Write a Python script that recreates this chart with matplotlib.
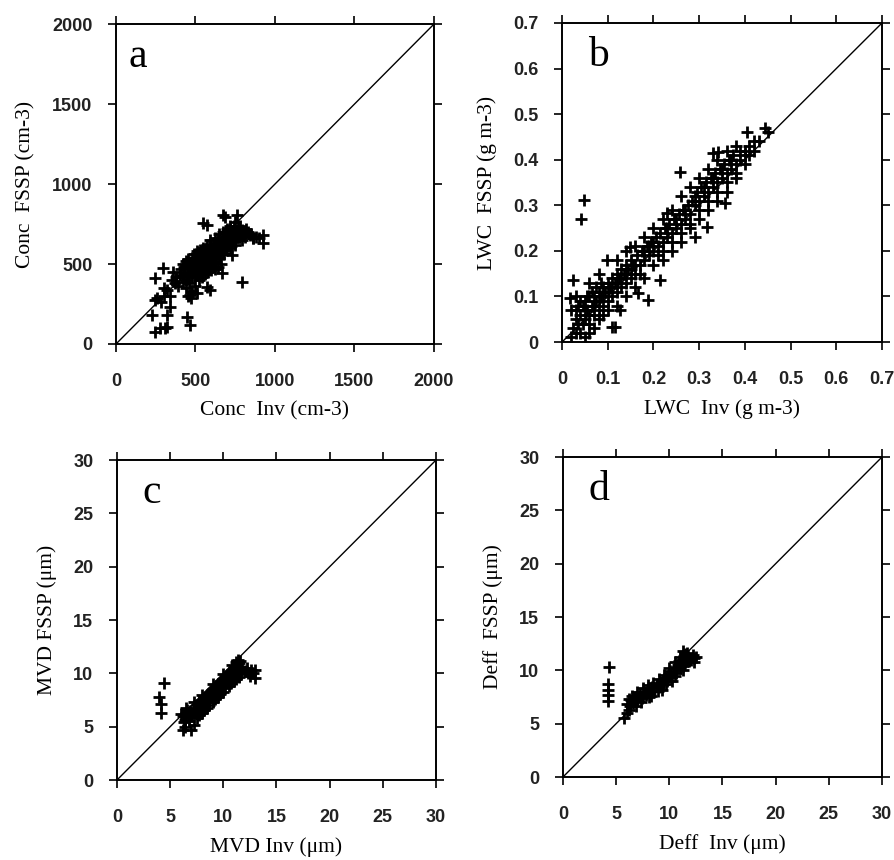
import matplotlib
matplotlib.use("Agg")
import matplotlib.pyplot as plt
from matplotlib.ticker import FixedLocator, FuncFormatter

# ---- data ----
conc_inv = [400, 410, 420, 430, 440, 450, 455, 460, 470, 475, 480, 490, 495, 500, 505, 510, 515, 520, 525, 530,
            540, 545, 550, 555, 560, 565, 570, 575, 580, 585, 590, 595, 600, 605, 610, 615, 620, 625, 630, 635,
            640, 645, 650, 655, 660, 665, 670, 675, 680, 685, 690, 695, 700, 705, 710, 715, 720, 725, 730, 735,
            740, 745, 750, 755, 760, 770, 780, 790, 800, 810, 820, 840, 860,
            420, 430, 440, 450, 460, 470, 480, 490, 500, 500, 510, 510, 520, 530, 530, 540, 550, 560, 560, 570,
            580, 590, 590, 600, 610, 610, 620, 630, 640, 650, 650, 660, 670, 680, 680, 690, 700, 700, 710, 720,
            720, 730, 740, 750, 750, 760, 770, 780, 790, 800, 830, 850, 880, 900,
            350, 360, 370, 380, 390, 420, 440, 460, 480, 500, 520, 540, 560, 580, 600, 620, 640, 660, 450, 470,
            510, 300, 320, 340, 280, 260, 300,
            245, 298, 224, 245, 319, 340, 444, 465, 277, 319, 245, 308, 570, 549, 686, 759, 675, 927, 927, 864,
            790, 728, 665, 591, 570, 465]
conc_fssp = [430, 470, 500, 450, 520, 480, 440, 510, 470, 540, 500, 450, 520, 480, 560, 430, 510, 470, 540, 500,
             580, 520, 470, 550, 510, 600, 540, 480, 570, 520, 610, 560, 500, 590, 540, 630, 580, 520, 610, 560,
             650, 600, 540, 630, 580, 670, 620, 560, 660, 600, 700, 640, 590, 680, 630, 720, 660, 610, 700, 650,
             740, 690, 640, 710, 670, 730, 690, 650, 700, 670, 720, 680, 660,
             420, 480, 400, 530, 450, 500, 420, 560, 430, 520, 470, 580, 540, 450, 590, 490, 600, 470, 560, 620,
             500, 540, 650, 580, 620, 480, 660, 540, 610, 690, 580, 640, 700, 560, 620, 660, 720, 620, 680, 740,
             600, 660, 700, 760, 620, 700, 680, 740, 710, 680, 700, 690, 670, 660,
             400, 450, 380, 420, 360, 390, 350, 380, 330, 360, 400, 420, 440, 450, 460, 470, 480, 500, 300, 290,
             320, 300, 340, 300, 260, 290, 350,
             410, 473, 181, 275, 181, 233, 171, 119, 98, 108, 77, 98, 744, 754, 796, 806, 806, 681, 629, 660,
             389, 556, 442, 338, 358, 306]

lwc_inv = [0.02, 0.025, 0.03, 0.03, 0.035, 0.04, 0.04, 0.045, 0.05, 0.05, 0.055, 0.06, 0.06, 0.065, 0.07, 0.07,
           0.075, 0.08, 0.08, 0.085, 0.09, 0.09, 0.095, 0.1, 0.1, 0.105, 0.11, 0.11, 0.115, 0.12, 0.12, 0.125,
           0.13, 0.13, 0.135, 0.14, 0.14, 0.145, 0.15, 0.15, 0.155, 0.16, 0.165, 0.17, 0.175, 0.18, 0.185, 0.19,
           0.195, 0.2, 0.205, 0.21, 0.215, 0.22, 0.225, 0.23, 0.235, 0.24, 0.245, 0.25, 0.255, 0.26, 0.265, 0.27,
           0.275, 0.28, 0.285, 0.29, 0.295, 0.3, 0.305, 0.31, 0.315, 0.32, 0.325, 0.33, 0.335, 0.34, 0.345, 0.35,
           0.355, 0.36, 0.365, 0.37, 0.375, 0.38, 0.39, 0.4, 0.41, 0.42, 0.43, 0.45,
           0.03, 0.04, 0.045, 0.05, 0.055, 0.06, 0.065, 0.07, 0.075, 0.08, 0.085, 0.09, 0.1, 0.11, 0.12, 0.13,
           0.14, 0.15, 0.16, 0.17, 0.18, 0.19, 0.2, 0.21, 0.22, 0.23, 0.24, 0.25, 0.26, 0.27, 0.28, 0.29, 0.3,
           0.31, 0.32, 0.33, 0.34, 0.35, 0.36, 0.37, 0.38, 0.39, 0.4, 0.41, 0.42,
           0.02, 0.03, 0.035, 0.05, 0.06, 0.07, 0.08, 0.09, 0.1, 0.12, 0.14, 0.16, 0.18, 0.2, 0.22, 0.24, 0.26,
           0.28, 0.3, 0.32, 0.34, 0.36, 0.38, 0.4, 0.06, 0.08, 0.12, 0.14, 0.16, 0.18, 0.2, 0.22, 0.24, 0.26,
           0.28, 0.3, 0.32, 0.34, 0.36, 0.38,
           0.047, 0.041, 0.258, 0.025, 0.018, 0.109, 0.116, 0.127, 0.167, 0.189, 0.214, 0.098, 0.149, 0.229,
           0.291, 0.317, 0.357, 0.331, 0.444, 0.404, 0.342]
lwc_fssp = [0.01, 0.03, 0.02, 0.05, 0.04, 0.06, 0.02, 0.08, 0.05, 0.09, 0.07, 0.04, 0.1, 0.08, 0.06, 0.1,
            0.09, 0.07, 0.11, 0.1, 0.08, 0.12, 0.11, 0.09, 0.13, 0.12, 0.1, 0.14, 0.13, 0.11, 0.15, 0.14,
            0.12, 0.16, 0.15, 0.13, 0.17, 0.16, 0.14, 0.18, 0.17, 0.15, 0.19, 0.17, 0.2, 0.18, 0.21, 0.19,
            0.22, 0.2, 0.23, 0.21, 0.24, 0.22, 0.25, 0.23, 0.26, 0.24, 0.27, 0.25, 0.28, 0.26, 0.29, 0.27,
            0.3, 0.28, 0.31, 0.3, 0.33, 0.31, 0.34, 0.32, 0.35, 0.33, 0.36, 0.34, 0.37, 0.35, 0.38, 0.36,
            0.39, 0.37, 0.4, 0.38, 0.41, 0.39, 0.42, 0.41, 0.43, 0.42, 0.44, 0.46,
            0.07, 0.09, 0.04, 0.07, 0.1, 0.06, 0.11, 0.08, 0.12, 0.09, 0.13, 0.1, 0.11, 0.12, 0.13, 0.14,
            0.15, 0.16, 0.17, 0.15, 0.2, 0.21, 0.22, 0.19, 0.2, 0.25, 0.22, 0.27, 0.24, 0.29, 0.26, 0.32, 0.29,
            0.34, 0.31, 0.36, 0.33, 0.38, 0.35, 0.4, 0.37, 0.4, 0.42, 0.41, 0.44,
            0.07, 0.1, 0.08, 0.01, 0.02, 0.03, 0.05, 0.06, 0.07, 0.08, 0.1, 0.12, 0.14, 0.17, 0.18, 0.2, 0.22,
            0.25, 0.27, 0.29, 0.31, 0.33, 0.36, 0.39, 0.13, 0.15, 0.18, 0.2, 0.21, 0.23, 0.25, 0.27, 0.29, 0.32,
            0.34, 0.36, 0.38, 0.4, 0.42, 0.43,
            0.311, 0.271, 0.373, 0.136, 0.096, 0.034, 0.034, 0.07, 0.107, 0.092, 0.136, 0.18, 0.209, 0.282,
            0.231, 0.253, 0.304, 0.414, 0.469, 0.461, 0.417]

mvd_inv = [6.2, 6.4, 6.5, 6.7, 6.9, 7.0, 7.2, 7.3, 7.5, 7.6, 7.8, 7.9, 8.0, 8.1, 8.3, 8.4, 8.5, 8.6, 8.8, 8.9,
           9.0, 9.1, 9.3, 9.4, 9.5, 9.6, 9.8, 9.9, 10.0, 10.1, 10.3, 10.4, 10.5, 10.6, 10.8, 10.9, 11.0, 11.1,
           11.3, 11.4, 11.5, 11.6, 11.7, 12.0, 12.3, 12.6, 13.0, 13.0, 12.8,
           6.2, 6.4, 7.0, 7.2, 7.5, 8.0, 8.5, 9.0, 9.5, 10.0, 10.5, 11.0, 11.5,
           6.0, 6.5, 7.2, 8.0, 9.0, 10.0, 10.8, 11.2, 11.6,
           6.3, 6.6, 6.8, 7.1, 7.4, 7.7, 7.7, 8.2, 8.2, 8.7, 8.7, 9.2, 9.2, 9.7, 9.7, 10.2, 10.2, 10.7, 10.7,
           11.2, 11.2, 11.4, 11.8, 12.2, 12.5,
           4.45, 3.98, 4.14, 4.14]
mvd_fssp = [6.0, 5.6, 6.3, 5.9, 6.5, 6.0, 6.8, 6.3, 7.0, 6.5, 7.3, 6.8, 7.5, 7.0, 7.8, 7.3, 8.0, 7.5, 8.3, 7.8,
            8.5, 8.0, 8.8, 8.3, 9.0, 8.5, 9.3, 8.8, 9.5, 9.0, 9.8, 9.3, 10.0, 9.5, 10.3, 9.8, 10.5, 10.0,
            10.8, 10.2, 11.0, 10.4, 9.9, 10.2, 10.0, 10.3, 10.3, 9.6, 10.0,
            4.7, 5.0, 4.7, 5.2, 5.8, 6.3, 6.8, 7.3, 7.8, 8.3, 8.8, 9.3, 9.7,
            6.2, 6.8, 7.3, 8.0, 9.0, 9.9, 10.8, 11.1, 11.2,
            5.4, 6.6, 5.5, 6.3, 6.6, 7.4, 6.1, 7.6, 6.6, 8.1, 7.0, 8.6, 7.6, 9.1, 8.1, 9.6, 8.6, 10.1, 9.1,
            10.6, 9.5, 11.3, 10.6, 10.5, 9.8,
            9.1, 7.8, 7.1, 6.3]

deff_inv = [6.0, 6.2, 6.4, 6.6, 6.8, 7.0, 7.2, 7.4, 7.6, 7.8, 8.0, 8.2, 8.4, 8.6, 8.8, 9.0, 9.2, 9.4, 9.6, 9.8,
            10.0, 10.2, 10.4, 10.6, 10.8, 11.0, 11.2, 11.4, 11.5, 11.6, 11.8, 12.0, 12.3, 12.5, 12.3, 11.3,
            11.0, 10.5, 10.0, 9.5, 9.0, 8.5, 8.0, 7.5, 7.0, 6.5, 6.2, 7.3, 8.3, 9.3, 10.3, 11.3, 5.7, 6.0,
            6.3, 6.7, 6.9, 7.1, 7.5, 7.9, 8.1, 8.5, 8.9, 9.1, 9.5, 9.7, 9.9, 10.1, 10.5, 10.7, 10.9, 11.1,
            11.3, 11.5, 11.7, 11.9, 12.2,
            4.36, 4.2, 4.2, 4.2, 4.2]
deff_fssp = [6.8, 6.3, 7.2, 6.9, 7.5, 7.1, 7.8, 7.4, 8.0, 7.7, 8.2, 7.9, 8.4, 8.1, 8.6, 8.4, 8.9, 8.7, 9.3, 9.0,
             9.7, 9.4, 10.1, 9.8, 10.5, 10.2, 11.0, 10.6, 11.5, 11.0, 11.3, 11.0, 11.2, 11.3, 10.8, 11.8,
             11.3, 10.8, 10.2, 9.6, 9.2, 8.8, 8.6, 8.3, 8.0, 7.6, 7.3, 7.0, 7.6, 8.2, 9.0, 10.0, 5.5, 6.0,
             6.7, 7.3, 6.7, 7.6, 7.6, 8.0, 7.5, 8.3, 8.1, 8.7, 9.1, 8.7, 9.5, 9.9, 9.5, 10.2, 10.9, 10.6,
             10.4, 10.8, 11.6, 10.9, 11.4,
             10.3, 8.7, 8.2, 7.7, 7.15]

panels = [
    ("a", conc_inv, conc_fssp, 2000, [0, 500, 1000, 1500, 2000], "Conc  Inv (cm-3)", "Conc  FSSP (cm-3)"),
    ("b", lwc_inv, lwc_fssp, 0.7, [0, 0.1, 0.2, 0.3, 0.4, 0.5, 0.6, 0.7], "LWC  Inv (g m-3)", "LWC  FSSP (g m-3)"),
    ("c", mvd_inv, mvd_fssp, 30, [0, 5, 10, 15, 20, 25, 30], "MVD Inv (\u03bcm)", "MVD FSSP (\u03bcm)"),
    ("d", deff_inv, deff_fssp, 30, [0, 5, 10, 15, 20, 25, 30], "Deff  Inv (\u03bcm)", "Deff  FSSP (\u03bcm)"),
]

# axes boxes in figure fractions (895 x 860 px)
boxes = [
    [0.1296, 0.600, 0.3553, 0.372],
    [0.6280, 0.6023, 0.3575, 0.371],
    [0.1307, 0.093, 0.3564, 0.372],
    [0.6290, 0.0965, 0.3564, 0.372],
]
letter_x = [0.04, 0.08, 0.08, 0.08]

label_font = dict(family=["Liberation Serif", "DejaVu Serif"], size=15.5)


def fmt(v, pos):
    if v == 0:
        return "0"
    if float(v).is_integer():
        return str(int(v))
    return ("%.1f" % v)


fig = plt.figure(figsize=(8.95, 8.6), dpi=100)

for (letter, xs, ys, vmax, ticks, xlab, ylab), box, lx in zip(panels, boxes, letter_x):
    ax = fig.add_axes(box)
    ax.plot([0, vmax], [0, vmax], color="black", lw=1.0)
    ax.plot(xs, ys, linestyle="none", marker="+", color="black", ms=8.5, mew=2.0)
    ax.set_xlim(0, vmax)
    ax.set_ylim(0, vmax)
    ax.xaxis.set_major_locator(FixedLocator(ticks))
    ax.yaxis.set_major_locator(FixedLocator(ticks))
    ax.xaxis.set_major_formatter(FuncFormatter(fmt))
    ax.yaxis.set_major_formatter(FuncFormatter(fmt))
    ax.tick_params(direction="out", length=6, width=1.2, top=True, right=True,
                   labeltop=False, labelright=False, color="black")
    ax.tick_params(axis="x", pad=15)
    ax.tick_params(axis="y", pad=11)
    for lab in ax.get_xticklabels() + ax.get_yticklabels():
        lab.set_family(["Liberation Sans", "DejaVu Sans"])
        lab.set_weight("bold")
        lab.set_size(13)
        lab.set_color("#222222")
    for sp in ax.spines.values():
        sp.set_linewidth(1.4)
    ax.set_xlabel(xlab, labelpad=8, **label_font)
    ax.set_ylabel(ylab, labelpad=12, **label_font)
    ax.text(lx, 0.865, letter, transform=ax.transAxes, fontsize=30,
            family=["Liberation Serif", "DejaVu Serif"], va="baseline")

fig.savefig("out.png", dpi=100)
